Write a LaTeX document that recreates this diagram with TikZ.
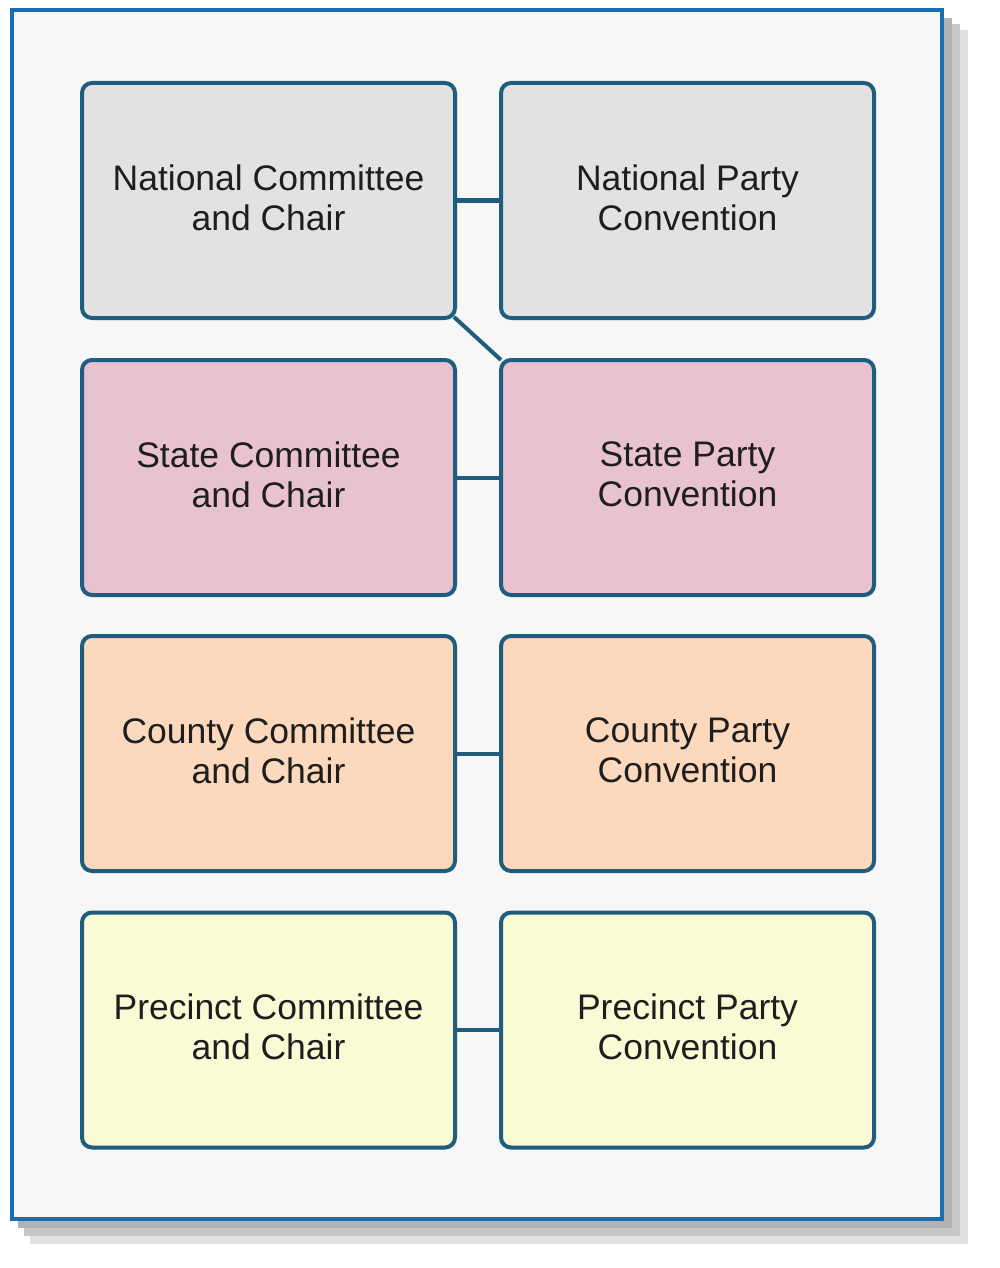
\documentclass[tikz,border=0pt]{standalone}
\usepackage{fontspec}
\setmainfont{Liberation Sans}
\definecolor{frameblue}{HTML}{1B6DB3}
\definecolor{boxline}{HTML}{1F5C7E}
\definecolor{natfill}{HTML}{E2E2E2}
\definecolor{statefill}{HTML}{E9C2D2}
\definecolor{countyfill}{HTML}{FCD9BD}
\definecolor{precfill}{HTML}{FAFAD4}
\definecolor{txt}{HTML}{1E1E1E}
\newcommand{\lowstrut}{\rule[-6pt]{0pt}{6pt}}
\begin{document}
\begin{tikzpicture}[x=1pt,y=-1pt,
  orgbox/.style={draw=boxline, line width=4pt, rounded corners=10pt,
    minimum width=373pt, minimum height=235pt, align=center,
    text=txt, font=\fontsize{35.5}{40}\selectfont, inner sep=0pt},
  link/.style={draw=boxline, line width=4pt}]
\useasboundingbox (0,0) rectangle (1000,1268);
\fill[white] (0,0) rectangle (1000,1268);
% shadow
\fill[black!12] (30,30) rectangle (968,1244);
\fill[black!22] (24,24) rectangle (960,1236);
\fill[black!30] (18,18) rectangle (952,1228);
% outer frame
\draw[frameblue, line width=3.5pt, fill=black!3] (12,10) rectangle (942,1219);
% boxes
\node[orgbox, fill=natfill] (nc) at (268.5,200.5) {National Committee\\and Chair\lowstrut};
\node[orgbox, fill=natfill] (np) at (687.5,200.5) {National Party\\Convention\lowstrut};
\node[orgbox, fill=statefill] (sc) at (268.5,477.5) {State Committee\\and Chair\lowstrut};
\node[orgbox, fill=statefill] (sp) at (687.5,477.5) {State Party\\Convention\lowstrut};
\node[orgbox, fill=countyfill] (cc) at (268.5,753.5) {County Committee\\and Chair\lowstrut};
\node[orgbox, fill=countyfill] (cp) at (687.5,753.5) {County Party\\Convention\lowstrut};
\node[orgbox, fill=precfill] (pc) at (268.5,1030) {Precinct Committee\\and Chair\lowstrut};
\node[orgbox, fill=precfill] (pp) at (687.5,1030) {Precinct Party\\Convention\lowstrut};
% connectors
\draw[link] (nc.east) -- (np.west);
\draw[link] (sc.east) -- (sp.west);
\draw[link] (cc.east) -- (cp.west);
\draw[link] (pc.east) -- (pp.west);
\draw[link] ([shift={(-3,-3)}]nc.south east) -- ([shift={(2,2)}]sp.north west);
\end{tikzpicture}
\end{document}
